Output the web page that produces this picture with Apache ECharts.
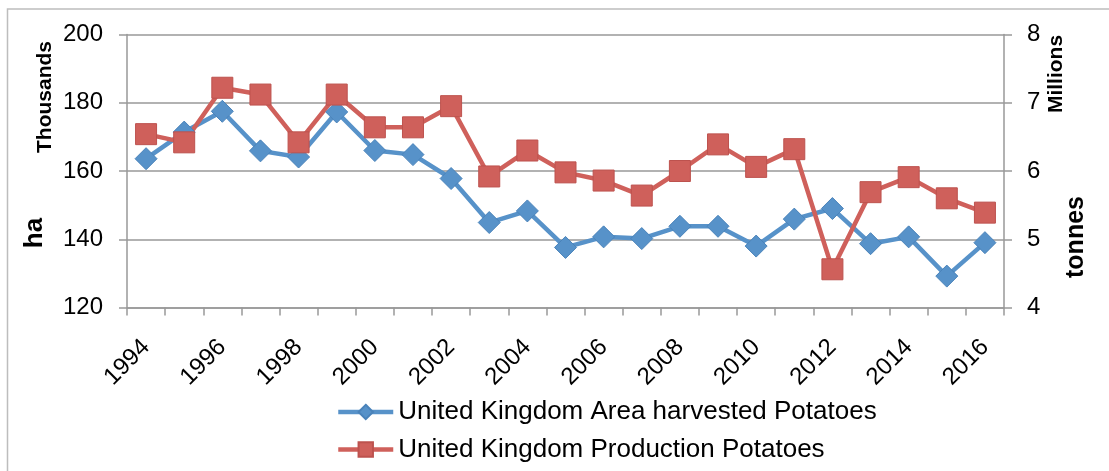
<!DOCTYPE html>
<html>
<head>
<meta charset="utf-8">
<script src="https://cdn.jsdelivr.net/npm/echarts@6/dist/echarts.min.js"></script>
<style>
  html, body { margin: 0; padding: 0; background: #fff; }
  #chart { width: 1109px; height: 471px; }
</style>
</head>
<body>
<div id="chart"></div>
<script>
// Years on the category axis
const years = ['1994','1995','1996','1997','1998','1999','2000','2001','2002','2003','2004',
               '2005','2006','2007','2008','2009','2010','2011','2012','2013','2014','2015','2016'];

// Area harvested, thousand hectares (left axis)
const areaHarvested = [163.6, 171.4, 177.5, 165.9, 164.1, 177.3, 166.0, 164.8, 157.8, 144.9, 148.3,
                       137.6, 140.7, 140.2, 143.8, 143.8, 138.0, 145.9, 149.0, 138.7, 140.7, 129.2, 139.0];

// Production, million tonnes (right axis)
const production = [6.54, 6.42, 7.22, 7.12, 6.42, 7.12, 6.64, 6.64, 6.95, 5.92, 6.30,
                    5.98, 5.86, 5.64, 6.00, 6.39, 6.06, 6.32, 4.56, 5.69, 5.91, 5.60, 5.39];

// Axis tick values
const leftTicks = { min: 120, max: 200, interval: 20 };
const rightTicks = { min: 4, max: 8, interval: 1 };

const seriesNames = ['United Kingdom Area harvested Potatoes', 'United Kingdom Production Potatoes'];

const BLUE = '#5792C9';
const RED = '#CF605B';
const GRID_GRAY = '#999999';
const FONT = '"Liberation Sans", Arial, sans-serif';

const chart = echarts.init(document.getElementById('chart'), null, { renderer: 'canvas' });

chart.setOption({
  animation: false,
  backgroundColor: '#ffffff',
  textStyle: { fontFamily: FONT, color: '#000' },
  grid: { left: 127, right: 105, top: 34.5, height: 273, containLabel: false },
  xAxis: {
    type: 'category',
    data: years,
    boundaryGap: true,
    axisLine: { lineStyle: { color: GRID_GRAY, width: 1.5 } },
    axisTick: { show: true, interval: 0, length: 8, inside: false, lineStyle: { color: GRID_GRAY, width: 1.5 } },
    axisLabel: { interval: 1, rotate: 45, margin: 36, fontSize: 24, color: '#000', fontFamily: FONT }
  },
  yAxis: [
    {
      type: 'value',
      position: 'left',
      min: leftTicks.min, max: leftTicks.max, interval: leftTicks.interval,
      axisLine: { show: true, lineStyle: { color: GRID_GRAY, width: 1.5 } },
      axisTick: { show: true, length: 8, lineStyle: { color: GRID_GRAY, width: 1.5 } },
      axisLabel: { margin: 24, fontSize: 24, color: '#000', fontFamily: FONT },
      splitLine: { show: true, lineStyle: { color: GRID_GRAY, width: 1.5 } }
    },
    {
      type: 'value',
      position: 'right',
      min: rightTicks.min, max: rightTicks.max, interval: rightTicks.interval,
      axisLine: { show: true, lineStyle: { color: GRID_GRAY, width: 1.5 } },
      axisTick: { show: true, length: 8, lineStyle: { color: GRID_GRAY, width: 1.5 } },
      axisLabel: { margin: 23, fontSize: 24, color: '#000', fontFamily: FONT },
      splitLine: { show: false }
    }
  ],
  legend: {
    orient: 'vertical',
    left: 336,
    top: 399,
    padding: 0,
    itemWidth: 55,
    itemHeight: 18,
    itemGap: 11.5,
    lineStyle: { width: 4.5 },
    textStyle: { fontSize: 26, lineHeight: 26, color: '#000', fontFamily: FONT },
    data: seriesNames
  },
  series: [
    {
      name: seriesNames[0],
      type: 'line',
      yAxisIndex: 0,
      data: areaHarvested,
      symbol: 'diamond',
      symbolSize: [22, 22],
      lineStyle: { color: BLUE, width: 4.5 },
      itemStyle: { color: BLUE, borderColor: '#4A83BA', borderWidth: 1 }
    },
    {
      name: seriesNames[1],
      type: 'line',
      yAxisIndex: 1,
      data: production,
      symbol: 'rect',
      symbolSize: 21,
      lineStyle: { color: RED, width: 4.5 },
      itemStyle: { color: RED, borderColor: '#BD524E', borderWidth: 1 }
    }
  ],
  graphic: [
    {
      type: 'rect', silent: true, z: -1,
      shape: { x: 7.5, y: 9, width: 1200, height: 600 },
      style: { fill: null, stroke: '#bdbdbd', lineWidth: 1.5 }
    },
    {
      type: 'text', x: 45, y: 97, rotation: Math.PI / 2,
      style: { text: 'Thousands', font: 'bold 21px ' + FONT, fill: '#000', align: 'center', verticalAlign: 'middle' }
    },
    {
      type: 'text', x: 34.5, y: 233, rotation: Math.PI / 2,
      style: { text: 'ha', font: 'bold 26px ' + FONT, fill: '#000', align: 'center', verticalAlign: 'middle' }
    },
    {
      type: 'text', x: 1056, y: 74, rotation: Math.PI / 2,
      style: { text: 'Millions', font: 'bold 21px ' + FONT, fill: '#000', align: 'center', verticalAlign: 'middle' }
    },
    {
      type: 'text', x: 1076, y: 237, rotation: Math.PI / 2,
      style: { text: 'tonnes', font: 'bold 25px ' + FONT, fill: '#000', align: 'center', verticalAlign: 'middle' }
    }
  ]
});
</script>
</body>
</html>
